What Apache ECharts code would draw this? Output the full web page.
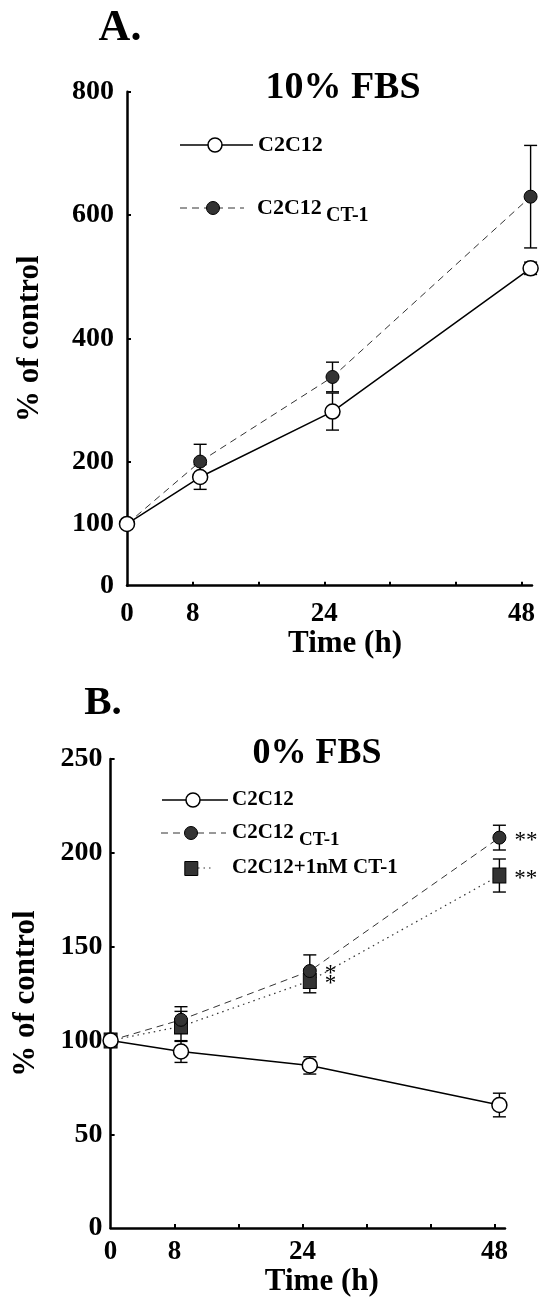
<!DOCTYPE html>
<html><head><meta charset="utf-8">
<script src="https://cdn.jsdelivr.net/npm/echarts@6/dist/echarts.min.js"></script>
<style>html,body{margin:0;padding:0;background:#fff;} #c{width:545px;height:1298px;}</style>
</head><body><div id="c"></div>
<script>
// ---- Panel A: 10% FBS ----
const timesA = [0, 8.9, 25.0, 49.1];
const aC2C12 = [100, 176, 282, 514];
const aC2C12Err = [0, 20, 30, 10];
const aCT1 = [100, 201, 338, 630];
const aCT1Err = [0, 28, 24, 83];

// ---- Panel B: 0% FBS ----
const timesB = [0, 8.8, 24.9, 48.6];
const bC2C12 = [100, 94.1, 86.7, 65.6];
const bC2C12Err = [0, 5.8, 4.6, 6.3];
const bCT1 = [100, 111, 137, 208.1];
const bCT1Err = [0, 7, 8.6, 6.6];
const bNM = [100, 107.5, 131.7, 187.9];
const bNMErr = [0, 8, 6.3, 8.8];
const sigCT1 = ['', '', '*', '**'];
const sigNM = ['', '', '*', '**'];

// ---- ticks ----
const xTickLabels = [0, 8, 24, 48];
const xTicks = [8, 16, 24, 32, 40, 48];
const yTickLabelsA = [0, 100, 200, 400, 600, 800];
const yTicksA = [200, 400, 600, 800];
const yTickLabelsB = [0, 50, 100, 150, 200, 250];
const yTicksB = [50, 100, 150, 200, 250];

const SERIF = '"Liberation Serif","Times New Roman",serif';

function xAx(gi, max, margin, nameGap, padLeft) {
  return {type:'value', gridIndex:gi, min:0, max:max,
    axisLine:{show:true, onZero:false, lineStyle:{color:'#000', width:2.5}},
    axisTick:{show:true, inside:true, length:4, customValues:xTicks, lineStyle:{color:'#000', width:2}},
    axisLabel:{customValues:xTickLabels, margin:margin, fontFamily:SERIF, fontWeight:'bold', fontSize:27, color:'#000'},
    splitLine:{show:false},
    name:'Time (h)', nameLocation:'middle', nameGap:nameGap,
    nameTextStyle:{fontFamily:SERIF, fontWeight:'bold', fontSize:31, color:'#000', padding:[0,0,0,padLeft]}
  };
}
function yAx(gi, max, labels, ticks, margin, nameGap) {
  return {type:'value', gridIndex:gi, min:0, max:max,
    axisLine:{show:true, onZero:false, lineStyle:{color:'#000', width:2.5}},
    axisTick:{show:true, inside:true, length:4, customValues:ticks, lineStyle:{color:'#000', width:2}},
    axisLabel:{customValues:labels, margin:margin, fontFamily:SERIF, fontWeight:'bold', fontSize:28, color:'#000'},
    splitLine:{show:false},
    name:'% of control', nameLocation:'middle', nameGap:nameGap, nameRotate:90,
    nameTextStyle:{fontFamily:SERIF, fontWeight:'bold', fontSize:31, color:'#000'}
  };
}
function errSeries(ai, times, vals, errs) {
  const data = [];
  times.forEach((t, i) => { if (errs[i] > 0) data.push([t, vals[i] - errs[i], vals[i] + errs[i]]); });
  return {type:'custom', xAxisIndex:ai, yAxisIndex:ai, z:1, silent:true,
    encode:{x:0, y:[1,2]}, data:data,
    renderItem:(params, api) => {
      const x = api.value(0);
      const lo = api.coord([x, api.value(1)]);
      const hi = api.coord([x, api.value(2)]);
      const w = 6.5;
      const st = {stroke:'#000', lineWidth:1.4};
      return {type:'group', children:[
        {type:'line', shape:{x1:lo[0], y1:lo[1], x2:hi[0], y2:hi[1]}, style:st},
        {type:'line', shape:{x1:lo[0]-w, y1:lo[1], x2:lo[0]+w, y2:lo[1]}, style:st},
        {type:'line', shape:{x1:hi[0]-w, y1:hi[1], x2:hi[0]+w, y2:hi[1]}, style:st}
      ]};
    }};
}
const openStyle = {color:'#fff', borderColor:'#000', borderWidth:1.5};
const fillStyle = {color:'#333', borderColor:'#000', borderWidth:1};
function pts(times, vals, sig) {
  return times.map((t, i) => {
    const d = {value:[t, vals[i]]};
    if (sig && sig[i]) d.label = {show:true, formatter:sig[i]};
    return d;
  });
}
const starLabel = {position:'right', distance:8, fontFamily:SERIF, fontSize:23, color:'#000', offset:[0,3]};

const series = [
  errSeries(0, timesA, aC2C12, aC2C12Err),
  errSeries(0, timesA, aCT1, aCT1Err),
  {type:'line', name:'C2C12', xAxisIndex:0, yAxisIndex:0, z:3, data:pts(timesA, aC2C12),
   symbol:'circle', symbolSize:15, itemStyle:openStyle, lineStyle:{color:'#000', width:1.5}},
  {type:'line', name:'C2C12 CT-1', xAxisIndex:0, yAxisIndex:0, z:2, data:pts(timesA, aCT1),
   symbol:'circle', symbolSize:13, itemStyle:fillStyle, lineStyle:{color:'#333', width:1, type:[7,5]}},
  errSeries(1, timesB, bC2C12, bC2C12Err),
  errSeries(1, timesB, bCT1, bCT1Err),
  errSeries(1, timesB, bNM, bNMErr),
  {type:'line', name:'C2C12 (0%)', xAxisIndex:1, yAxisIndex:1, z:3, data:pts(timesB, bC2C12),
   symbol:'circle', symbolSize:15, itemStyle:openStyle, lineStyle:{color:'#000', width:1.5}},
  {type:'line', name:'C2C12+1nM CT-1', xAxisIndex:1, yAxisIndex:1, z:2, data:pts(timesB, bNM, sigNM),
   symbol:'rect', symbolSize:[13,15], itemStyle:fillStyle, lineStyle:{color:'#333', width:1.2, type:[1.5,4]},
   label:starLabel},
  {type:'line', name:'C2C12 CT-1 (0%)', xAxisIndex:1, yAxisIndex:1, z:2, data:pts(timesB, bCT1, sigCT1),
   symbol:'circle', symbolSize:13, itemStyle:fillStyle, lineStyle:{color:'#333', width:1, type:[7,5]},
   label:starLabel}
];

const T = (x, y, text, size, extra) => Object.assign({type:'text', x:x, y:y,
  style:Object.assign({text:text, fontFamily:SERIF, fontWeight:'bold', fontSize:size, fill:'#000', align:'left', verticalAlign:'middle'}, extra || {})});
const L = (x1, y1, x2, y2, dash, w, c) => ({type:'line', shape:{x1:x1, y1:y1, x2:x2, y2:y2},
  style:{stroke:c || '#000', lineWidth:w || 1.5, lineDash:dash || null}});
const C = (cx, cy, r, filled) => ({type:'circle', z:10, shape:{cx:cx, cy:cy, r:r},
  style:filled ? {fill:'#333', stroke:'#000', lineWidth:1} : {fill:'#fff', stroke:'#000', lineWidth:1.5}});

const graphic = [
  T(120, 29, 'A.', 44, {align:'center'}),
  T(343, 88, '10% FBS', 38, {align:'center'}),
  // legend A
  L(180, 145, 253, 145), C(215, 145, 7, false), T(258, 145, 'C2C12', 22),
  L(180, 208, 244, 208, [7,5], 1, '#333'), C(213, 208, 6.5, true), T(257, 208, 'C2C12', 22), T(326, 216, 'CT-1', 20),
  T(103, 703, 'B.', 41, {align:'center'}),
  T(317, 754, '0% FBS', 36, {align:'center'}),
  // legend B
  L(162, 800, 228, 800), C(193, 800, 7, false), T(232, 800, 'C2C12', 21),
  L(161, 833, 226, 833, [7,5], 1, '#333'), C(191, 833, 6.5, true), T(232, 833, 'C2C12', 21), T(299, 840, 'CT-1', 19),
  L(198, 868, 214, 868, [1.5,4], 1.2, '#333'),
  {type:'rect', z:10, shape:{x:184.8, y:861.5, width:13, height:14}, style:{fill:'#333', stroke:'#000', lineWidth:1}},
  T(232, 868, 'C2C12+1nM CT-1', 21)
];

const chart = echarts.init(document.getElementById('c'), null, {renderer:'canvas'});
chart.setOption({
  backgroundColor:'#fff',
  animation:false,
  grid:[
    {left:127, top:91.7, width:405, height:494},
    {left:110.6, top:759, width:394.4, height:473.5}
  ],
  xAxis:[ xAx(0, 405/8.22, 15, 42, 31), xAx(1, 394.4/8.0, 10, 32, 28) ],
  yAxis:[ yAx(0, 800, yTickLabelsA, yTicksA, 13, 82), yAx(1, 250, yTickLabelsB, yTicksB, 8, 69) ],
  series:series,
  graphic:graphic
});
</script></body></html>
